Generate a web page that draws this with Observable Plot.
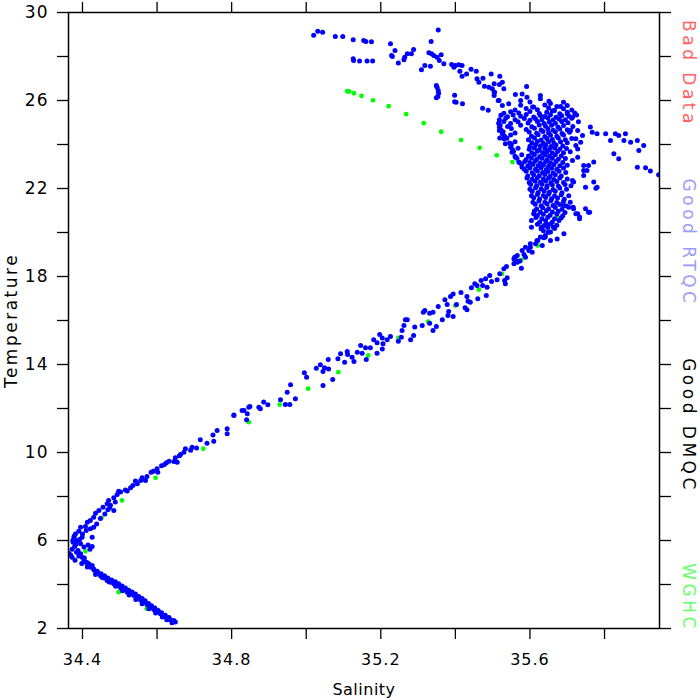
<!DOCTYPE html>
<html>
<head>
<meta charset="utf-8">
<script src="https://cdn.jsdelivr.net/npm/d3@7"></script>
<script src="https://cdn.jsdelivr.net/npm/@observablehq/plot@0.6"></script>
<style>
  html, body { margin: 0; padding: 0; background: #fff; }
</style>
</head>
<body>
<div id="chart"></div>
<script>
// ---- Tick values ----
const xTicks = [34.4, 34.6, 34.8, 35.0, 35.2, 35.4, 35.6, 35.8];
const xTickLabels = ["34.4", "34.8", "35.2", "35.6"];
const yTicks = [2, 4, 6, 8, 10, 12, 14, 16, 18, 20, 22, 24, 26, 28, 30];
const yTickLabels = [2, 6, 10, 14, 18, 22, 26, 30];

// ---- Axis titles ----
const xTitle = "Salinity";
const yTitle = "Temperature";

// ---- Legend labels (right side) ----
const legendLabels = ["Bad Data", "Good RTQC", "Good DMQC", "WGHC"];
const legendColors = ["#ff6464", "#9a9aff", "#000000", "#66ff66"];

// ---- WGHC climatology profile (green) [salinity, temperature] ----
const wghcPoints = [
  [35.110,26.42],[35.115,26.41],[35.128,26.33],[35.148,26.21],[35.179,26.01],[35.221,25.74],
  [35.268,25.38],[35.315,24.97],[35.362,24.58],[35.415,24.20],[35.465,23.85],[35.511,23.51],
  [35.553,23.20],[35.673,20.65],[35.654,20.01],[35.621,19.41],[35.577,18.76],[35.525,18.12],
  [35.463,17.40],[35.400,16.68],[35.327,15.95],[35.247,15.21],[35.166,14.41],[35.086,13.65],
  [35.005,12.90],[34.929,12.18],[34.846,11.38],[34.724,10.17],[34.596,8.85],[34.506,7.82],
  [34.451,7.03],[34.408,5.51],[34.497,3.65],[34.572,2.90]
];

// ---- Good DMQC observations (blue) [salinity, temperature] ----
const surfacePoints = [
  [35.020,28.97],[35.031,29.15],[35.044,29.10],[35.078,28.91],[35.098,28.91],[35.126,28.76],
  [35.154,28.73],[35.160,28.68],[35.175,28.67],[35.126,27.90],[35.127,27.82],[35.143,27.80],
  [35.163,27.80],[35.178,27.80],[35.226,28.58],[35.238,28.27],[35.229,28.05],[35.231,28.00],
  [35.247,27.71],[35.262,27.85],[35.264,27.97],[35.271,28.12],[35.282,28.12],[35.288,28.32],
  [35.354,29.21],[35.335,28.68],[35.329,28.17],[35.336,28.12],[35.342,28.05],[35.351,27.97],
  [35.362,28.08],[35.357,27.82],[35.369,27.67],[35.318,27.59],[35.309,27.40],[35.333,27.56],
  [35.390,27.64],[35.400,27.59],[35.409,27.62],[35.418,27.59],[35.396,27.51],[35.412,27.33],
  [35.430,27.21],[35.418,27.10],[35.442,27.42],[35.456,27.33],[35.474,27.01],[35.463,26.83],
  [35.458,26.99],[35.478,26.65],[35.490,26.60],[35.496,27.21],[35.499,26.53],[35.505,26.38],
  [35.504,26.23],[35.519,27.10],[35.518,26.73],[35.515,26.00],[35.349,26.68],[35.351,26.60],
  [35.354,26.45],[35.355,26.33],[35.353,26.18],[35.349,26.12],[35.398,26.24],[35.398,25.94],
  [35.402,25.92],[35.419,25.85],[35.473,25.65],[35.488,25.56],[35.518,24.79],[35.518,24.64],
  [35.519,24.30],[35.504,26.76],[35.526,26.83],[35.530,26.53],[35.504,26.38],[35.517,26.00],
  [35.526,25.77],[35.543,25.85],[35.561,26.27],[35.579,26.30],[35.591,26.64],[35.575,26.00],
  [35.592,26.15],[35.628,26.08],[35.651,25.97],[35.682,25.73],[35.607,25.70],[35.665,25.55],
  [35.628,26.23],[35.700,25.40],[35.714,25.24],[35.709,24.64],[35.723,24.26]
];

const mixedLayerPoints = [
  [35.600,25.93],[35.655,25.86],[35.690,25.92],
  [35.575,25.78],[35.610,25.71],[35.640,25.80],[35.672,25.73],[35.700,25.77],
  [35.560,25.57],[35.590,25.64],[35.620,25.58],[35.650,25.66],[35.665,25.55],[35.690,25.62],[35.712,25.57],
  [35.530,25.42],[35.548,25.49],[35.570,25.43],[35.600,25.50],[35.625,25.41],[35.645,25.47],[35.660,25.52],[35.680,25.40],[35.700,25.47],[35.720,25.43],
  [35.522,25.33],[35.540,25.26],[35.555,25.34],[35.575,25.28],[35.590,25.36],[35.610,25.25],[35.628,25.32],[35.640,25.27],[35.655,25.35],[35.670,25.24],[35.685,25.31],[35.705,25.28],[35.725,25.34],
  [35.518,25.12],[35.535,25.19],[35.560,25.13],[35.585,25.18],[35.600,25.10],[35.615,25.17],[35.632,25.12],[35.648,25.20],[35.662,25.11],[35.678,25.16],[35.695,25.13],[35.712,25.19],
  [35.516,24.97],[35.530,25.04],[35.548,24.96],[35.568,25.03],[35.595,24.98],[35.620,25.05],[35.638,24.95],[35.652,25.02],[35.668,24.97],[35.685,25.04],[35.702,24.99],[35.730,25.03],
  [35.520,24.88],[35.540,24.82],[35.575,24.87],[35.605,24.81],[35.625,24.89],[35.642,24.83],[35.658,24.88],[35.675,24.80],[35.690,24.86],[35.715,24.82],
  [35.522,24.67],[35.550,24.73],[35.590,24.68],[35.612,24.74],[35.630,24.66],[35.648,24.72],[35.662,24.65],[35.680,24.71],[35.700,24.67],
  [35.528,24.58],[35.560,24.52],[35.598,24.57],[35.618,24.51],[35.635,24.59],[35.650,24.53],[35.668,24.58],[35.686,24.50],[35.706,24.56],
  [35.532,24.37],[35.548,24.43],[35.604,24.38],[35.622,24.44],[35.640,24.36],[35.655,24.42],[35.672,24.37],[35.690,24.43],
  [35.538,24.28],[35.596,24.22],[35.612,24.29],[35.630,24.21],[35.645,24.27],[35.660,24.23],[35.676,24.30],[35.695,24.22],[35.712,24.27],
  [35.545,24.07],[35.560,24.13],[35.605,24.08],[35.620,24.14],[35.636,24.06],[35.650,24.12],[35.664,24.07],[35.682,24.13],[35.700,24.08],
  [35.550,23.98],[35.600,23.92],[35.615,23.99],[35.628,23.93],[35.642,23.97],[35.656,23.91],[35.670,23.98],[35.688,23.93],
  [35.553,23.77],[35.568,23.83],[35.598,23.78],[35.612,23.84],[35.625,23.76],[35.640,23.82],[35.652,23.77],[35.666,23.84],[35.680,23.78],[35.698,23.82],
  [35.556,23.68],[35.605,23.62],[35.620,23.69],[35.634,23.63],[35.646,23.67],[35.660,23.61],[35.674,23.68],[35.690,23.63],[35.708,23.67],
  [35.560,23.47],[35.578,23.53],[35.596,23.48],[35.612,23.54],[35.626,23.46],[35.640,23.52],[35.652,23.47],[35.668,23.53],[35.684,23.48],
  [35.565,23.38],[35.590,23.32],[35.604,23.39],[35.618,23.33],[35.632,23.37],[35.646,23.31],[35.660,23.38],[35.676,23.33],[35.695,23.36],
  [35.572,23.17],[35.586,23.23],[35.600,23.18],[35.614,23.24],[35.628,23.16],[35.642,23.22],[35.655,23.17],[35.670,23.23],[35.688,23.18],
  [35.578,23.08],[35.594,23.02],[35.608,23.09],[35.622,23.03],[35.636,23.07],[35.650,23.01],[35.664,23.08],[35.680,23.03],[35.700,23.06],
  [35.585,22.87],[35.600,22.93],[35.615,22.88],[35.630,22.94],[35.644,22.86],[35.658,22.92],[35.672,22.87],[35.690,22.93],
  [35.590,22.78],[35.606,22.72],[35.620,22.79],[35.634,22.73],[35.648,22.77],[35.662,22.71],[35.678,22.78],[35.696,22.73],
  [35.594,22.57],[35.610,22.63],[35.625,22.58],[35.640,22.64],[35.654,22.56],[35.668,22.62],[35.684,22.57],
  [35.592,22.48],[35.606,22.42],[35.620,22.49],[35.636,22.43],[35.650,22.47],[35.664,22.41],[35.680,22.48],[35.700,22.43],
  [35.598,22.27],[35.614,22.33],[35.628,22.28],[35.642,22.34],[35.656,22.26],[35.672,22.32],[35.690,22.27],
  [35.602,22.18],[35.618,22.12],[35.632,22.19],[35.646,22.13],[35.660,22.17],[35.676,22.11],[35.694,22.18],[35.710,22.13],
  [35.600,21.97],[35.615,22.03],[35.630,21.98],[35.645,22.04],[35.662,21.96],[35.680,22.02],[35.698,21.97],
  [35.606,21.88],[35.622,21.82],[35.638,21.89],[35.652,21.83],[35.668,21.87],[35.686,21.81],
  [35.604,21.67],[35.620,21.73],[35.636,21.68],[35.650,21.74],[35.666,21.66],[35.684,21.72],[35.704,21.67],
  [35.610,21.58],[35.626,21.52],[35.642,21.59],[35.658,21.53],[35.674,21.57],[35.692,21.51],
  [35.608,21.37],[35.624,21.43],[35.640,21.38],[35.656,21.44],[35.672,21.36],[35.690,21.42],[35.708,21.37],
  [35.614,21.28],[35.630,21.22],[35.646,21.29],[35.662,21.23],[35.680,21.27],[35.698,21.21],
  [35.618,21.07],[35.634,21.13],[35.650,21.08],[35.668,21.14],[35.686,21.06],
  [35.612,20.98],[35.628,20.92],[35.644,20.99],[35.660,20.93],[35.676,20.97],[35.694,20.91],
  [35.620,20.77],[35.636,20.83],[35.654,20.78],[35.672,20.84],[35.688,20.76],
  [35.616,20.68],[35.632,20.62],[35.648,20.69],[35.666,20.63],[35.684,20.67],
  [35.626,20.47],[35.642,20.53],[35.660,20.48],[35.678,20.54],
  [35.620,20.38],[35.638,20.32],[35.656,20.39],[35.672,20.33],
  [35.630,20.17],[35.648,20.23],[35.666,20.18],
  [35.636,20.08],[35.655,20.02],
  [35.526,24.49],[35.530,24.26],[35.548,24.03],[35.552,23.65],[35.561,23.42],[35.570,23.20],
  [35.579,22.97],[35.534,24.03],[35.548,23.88],
  [35.604,20.24],[35.631,20.24],[35.645,20.39],[35.663,20.24],[35.691,19.94],[35.673,19.71],
  [35.655,19.64],[35.641,19.79],[35.628,19.79],[35.619,19.64],[35.601,19.49],[35.588,19.33],
  [35.579,19.18],[35.566,18.95],[35.557,18.80],[35.604,20.55],[35.610,20.85]
];

const rightArmPoints = [
  [35.728,24.64],[35.741,24.41],[35.762,24.79],[35.767,24.56],[35.780,24.49],[35.803,24.49],
  [35.816,24.18],[35.829,24.49],[35.838,24.41],[35.852,24.18],[35.856,24.49],[35.870,24.10],
  [35.888,24.18],[35.892,23.73],[35.905,23.95],[35.888,22.97],[35.910,22.94],[35.923,22.79],
  [35.945,22.62],[35.771,23.20],[35.757,23.05],[35.744,23.05],[35.753,22.82],[35.744,22.59],
  [35.717,22.29],[35.749,22.06],[35.780,22.06],[35.771,22.29],[35.728,23.42],[35.714,23.27],
  [35.728,23.80],[35.723,23.95],[35.736,24.10],[35.825,23.58],[35.838,23.35],[35.728,20.85],
  [35.733,20.62],[35.757,20.92],[35.716,21.15],[35.704,21.15],[35.691,21.23],[35.714,22.36],
  [35.744,22.82],[35.777,22.01],[35.723,20.85],[35.733,20.70],[35.717,21.08],[35.749,21.08],
  [35.760,20.92]
];

const thermoclinePoints = [
  [34.806,11.71],[34.833,11.91],[34.846,12.06],[34.840,11.49],[34.873,12.06],[34.886,12.29],
  [34.897,12.17],[34.931,12.40],[34.944,12.18],[34.956,12.18],[34.949,12.74],[34.958,13.08],
  [34.971,12.44],[34.995,13.62],[35.001,13.42],[35.027,13.83],[35.038,13.99],[35.045,13.05],
  [35.049,13.85],[35.060,13.80],[35.045,13.68],[35.059,14.23],[35.071,13.32],[35.085,14.26],
  [35.092,14.49],[35.103,14.10],[35.110,14.59],[35.123,14.33],[35.128,14.14],[35.111,14.45],
  [35.137,14.56],[35.146,14.86],[35.150,14.51],[35.161,14.23],[35.159,14.76],[35.172,14.76],
  [35.181,15.12],[35.190,14.99],[35.197,15.36],[35.204,15.21],[35.206,14.94],[35.204,14.71],
  [35.190,14.51],[35.217,15.12],[35.226,15.27],[35.247,15.06],[35.255,15.24],[35.257,15.55],
  [35.262,15.77],[35.266,16.03],[35.271,16.03],[35.280,15.12],[35.288,15.32],[35.291,15.70],
  [35.311,15.77],[35.314,16.38],[35.318,16.45],[35.331,16.33],[35.331,15.88],[35.340,16.38],
  [35.340,15.55],[35.349,15.73],[35.354,16.64],[35.365,16.03],[35.372,16.94],[35.378,16.73],
  [35.382,16.41],[35.380,16.23],[35.394,16.18],[35.387,17.09],[35.394,17.21],[35.403,16.73],
  [35.415,17.27],[35.431,17.09],[35.434,16.88],[35.426,16.58],[35.431,16.49],[35.440,16.83],
  [35.443,17.49],[35.452,17.67],[35.460,16.99],[35.458,17.59],[35.469,17.82],[35.473,17.59],
  [35.483,17.14],[35.485,17.51],[35.481,17.90],[35.492,18.05],[35.497,17.77],[35.512,17.85],
  [35.519,18.12],[35.532,17.82],[35.534,17.67],[35.539,17.94],[35.530,18.35],[35.537,18.45],
  [35.557,18.58],[35.561,18.76],[35.559,18.88],[35.566,18.65],[35.577,18.38],[35.573,18.70],
  [35.584,19.00],[35.588,18.88],[35.597,19.18],[35.601,19.33],[35.606,19.10],[35.615,19.49],
  [35.621,19.64],[35.633,19.41],[35.637,19.76],[35.641,19.86],[35.649,20.01]
];

const hookPoints = [
  [34.877,11.99],[34.849,12.09],[34.828,11.91],[34.842,11.76],[34.806,11.68],[34.788,11.08],
  [34.788,10.85],[34.761,11.00],[34.750,10.80],[34.752,10.51],[34.734,10.42],[34.716,10.58],
  [34.706,10.21],[34.694,10.24],[34.676,10.17],[34.672,10.01],[34.663,9.91],[34.649,9.76],
  [34.645,9.59],[34.654,9.56],[34.625,9.53],[34.620,9.45],[34.600,9.26],[34.602,9.10],
  [34.584,9.10],[34.573,8.91],[34.569,8.73],[34.556,8.73],[34.542,8.70],[34.547,8.58],
  [34.529,8.40],[34.515,8.30],[34.502,8.20],[34.493,8.09],[34.497,8.24],[34.484,7.94],
  [34.470,7.82],[34.466,7.67],[34.473,7.49],[34.484,7.36],[34.455,7.51],[34.444,7.36],
  [34.435,7.24],[34.430,7.06],[34.421,6.91],[34.413,6.83],[34.408,6.64],[34.395,6.60],
  [34.390,6.42],[34.381,6.30],[34.377,6.15],[34.375,5.92],[34.379,5.73],[34.384,5.47],
  [34.372,5.24],[34.363,5.42],[34.386,6.00],[34.395,5.85],[34.399,6.15],[34.421,6.53],
  [34.430,6.60],[34.426,5.73],[34.404,5.70],[34.395,5.40],[34.399,5.24],[34.404,5.09],
  [34.417,4.94],[34.426,4.86],[34.413,4.79],[34.430,4.71],
  [34.372,5.60],[34.368,5.35],[34.380,5.10],[34.390,5.30],[34.388,5.55],[34.382,5.82],
  [34.392,6.05],[34.400,6.30],[34.410,6.45],[34.378,6.20],[34.374,6.00],[34.405,5.20],
  [34.412,5.00],[34.398,4.95],[34.420,5.60],[34.415,5.80],[34.426,6.15],[34.438,6.75],
  [34.448,7.00],[34.460,7.20],[34.468,7.40],[34.475,7.60],[34.488,7.75],[34.520,8.25],
  [34.535,8.50],[34.560,8.85],[34.590,9.15],[34.612,9.40],[34.632,9.60],[34.660,9.85],
  [34.690,10.10]
];

const tailPoints = [
  [34.439,4.60],[34.435,4.45],[34.448,4.41],[34.457,4.30],[34.466,4.18],[34.475,4.10],
  [34.484,4.03],[34.493,3.95],[34.502,3.85],[34.511,3.76],[34.520,3.65],[34.529,3.58],
  [34.538,3.50],[34.547,3.40],[34.556,3.30],[34.564,3.20],[34.573,3.09],[34.582,2.97],
  [34.591,2.86],[34.600,2.76],[34.609,2.67],[34.618,2.56],[34.627,2.47],[34.636,2.40],
  [34.649,2.29],
  [34.645,2.36],[34.632,2.50],[34.622,2.60],[34.612,2.72],[34.603,2.82],[34.594,2.93],
  [34.585,3.03],[34.577,3.14],[34.568,3.26],[34.560,3.36],[34.551,3.46],[34.542,3.57],
  [34.533,3.66],[34.524,3.74],[34.515,3.84],[34.506,3.93],[34.497,4.03],[34.488,4.12],
  [34.478,4.21],[34.468,4.30],[34.459,4.40],[34.450,4.49],[34.440,4.58],[34.431,4.66],
  [34.422,4.78],[34.414,4.90],[34.408,5.02],
  [34.640,2.26],[34.626,2.40],[34.614,2.52],[34.596,2.70],[34.578,2.90],[34.560,3.12],
  [34.543,3.32],[34.525,3.52],[34.507,3.72],[34.489,3.92],[34.471,4.12],[34.452,4.33],
  [34.436,4.52]
];

const dmqcPoints = [
  ...tailPoints, ...hookPoints, ...thermoclinePoints,
  ...mixedLayerPoints, ...rightArmPoints, ...surfacePoints
];

const fmtX = d => { const s = d.toFixed(1); return xTickLabels.includes(s) ? s : ""; };
const fmtY = d => (yTickLabels.includes(d) ? String(d) : "");
const blank = () => "";

// layout offsets of the rotated legend labels from the frame top (px)
const legendOffsets = [61, 230, 413, 585];

const chart = Plot.plot({
  width: 700,
  height: 700,
  marginLeft: 68,
  marginRight: 41,
  marginTop: 12,
  marginBottom: 72,
  style: {
    fontFamily: "'DejaVu Sans', sans-serif",
    fontSize: "16px",
    color: "#000",
    background: "#fff",
    overflow: "visible"
  },
  x: { domain: [34.3625, 35.9474] },
  y: { domain: [2, 30] },
  marks: [
    Plot.dot(wghcPoints, { x: d => d[0], y: d => d[1], r: 2.4, fill: "#00ff00", clip: true }),
    Plot.dot(dmqcPoints, { x: d => d[0], y: d => d[1], r: 2.5, fill: "#0000ff", clip: true }),
    Plot.frame({ stroke: "#000", strokeWidth: 1.5 }),
    Plot.axisX({ anchor: "bottom", ticks: xTicks, tickSize: 11, tickPadding: 14, strokeWidth: 1.3,
      fontSize: 16, tickFormat: fmtX, label: xTitle, labelAnchor: "center", labelArrow: "none", labelOffset: 66 }),
    Plot.axisX({ anchor: "top", ticks: xTicks, tickSize: 11, strokeWidth: 1.3, tickFormat: blank, label: null }),
    Plot.axisY({ anchor: "left", ticks: yTicks, tickSize: 11, tickPadding: 9, strokeWidth: 1.3,
      fontSize: 17, tickFormat: fmtY, label: yTitle, labelAnchor: "center", labelArrow: "none", labelOffset: 64 }),
    Plot.axisY({ anchor: "right", ticks: yTicks, tickSize: 11, strokeWidth: 1.3, tickFormat: blank, label: null }),
    ...legendLabels.map((label, i) =>
      Plot.text([label], {
        frameAnchor: "top-right",
        dx: 29,
        dy: legendOffsets[i],
        rotate: 90,
        textAnchor: "middle",
        lineAnchor: "middle",
        fill: legendColors[i],
        fontSize: 17,
        text: d => d
      })
    )
  ]
});

// letter spacing tweaks to mimic the wide stroke font of the original
const svg = d3.select(chart);
svg.selectAll("text").each(function () {
  const t = this.textContent;
  if (legendLabels.includes(t)) this.style.letterSpacing = "3.5px";
  else if (t === yTitle) this.style.letterSpacing = "2.5px";
  else if (t === xTitle) this.style.letterSpacing = "0.5px";
  else if (/^[0-9.]+$/.test(t)) this.style.letterSpacing = "1px";
});

document.getElementById("chart").appendChild(chart);
</script>
</body>
</html>
